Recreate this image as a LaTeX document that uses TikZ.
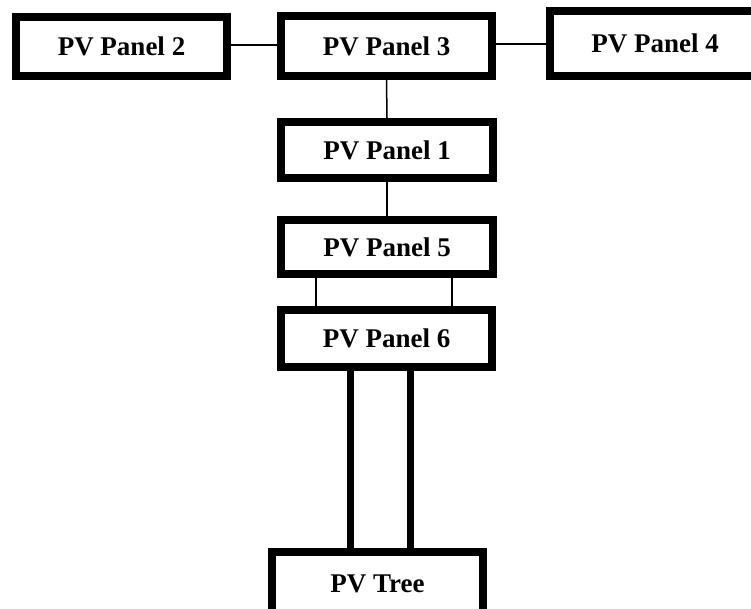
\documentclass[tikz,border=0pt]{standalone}
\usepackage{fontspec}
\setmainfont{Liberation Serif}
\begin{document}
\begin{tikzpicture}[x=1pt,y=-1pt,
  panel/.style={draw=black, line width=8pt, fill=white, inner sep=0pt,
    font=\bfseries\fontsize{27}{32}\selectfont, minimum width=211pt},
  thin/.style={line width=1.5pt},
  thick/.style={line width=7pt}]
\useasboundingbox (0,0) rectangle (751,609);
\clip (0,0) rectangle (751,609);
\fill[white] (0,0) rectangle (751,609);
\node[panel, minimum height=59pt] (p2) at (121.5,46.5) {PV Panel 2};
\node[panel, minimum height=60pt] (p3) at (386.5,46) {PV Panel 3};
\node[panel, minimum height=65pt, minimum width=210pt] (p4) at (655,43.5) {PV Panel 4};
\node[panel, minimum height=56pt, minimum width=212pt] (p1) at (387,150) {PV Panel 1};
\node[panel, minimum height=54pt, minimum width=212pt] (p5) at (387,247) {PV Panel 5};
\node[panel, minimum height=57pt] (p6) at (386.5,338.5) {PV Panel 6};
\node[panel, minimum height=64pt] (pt) at (377.5,584) {PV Tree};
\draw[thin] ([yshift=1.5pt]p2.east) -- ([yshift=1.5pt]p2.east -| p3.west);
\draw[thin] ([yshift=2pt]p3.east) -- ([yshift=2pt]p3.east -| p4.west);
\draw[thin] (p3.south) -- (p1.north);
\draw[thin] (p1.south) -- (p5.south |- p5.north);
\draw[thin] ([xshift=-71pt]p5.south) -- ([xshift=-71pt]p5.south |- p6.north);
\draw[thin] ([xshift=65pt]p5.south) -- ([xshift=65pt]p5.south |- p6.north);
\draw[thick] ([xshift=-36.5pt]p6.south) -- ([xshift=-36.5pt]p6.south |- pt.north);
\draw[thick] ([xshift=24pt]p6.south) -- ([xshift=24pt]p6.south |- pt.north);
\end{tikzpicture}
\end{document}
